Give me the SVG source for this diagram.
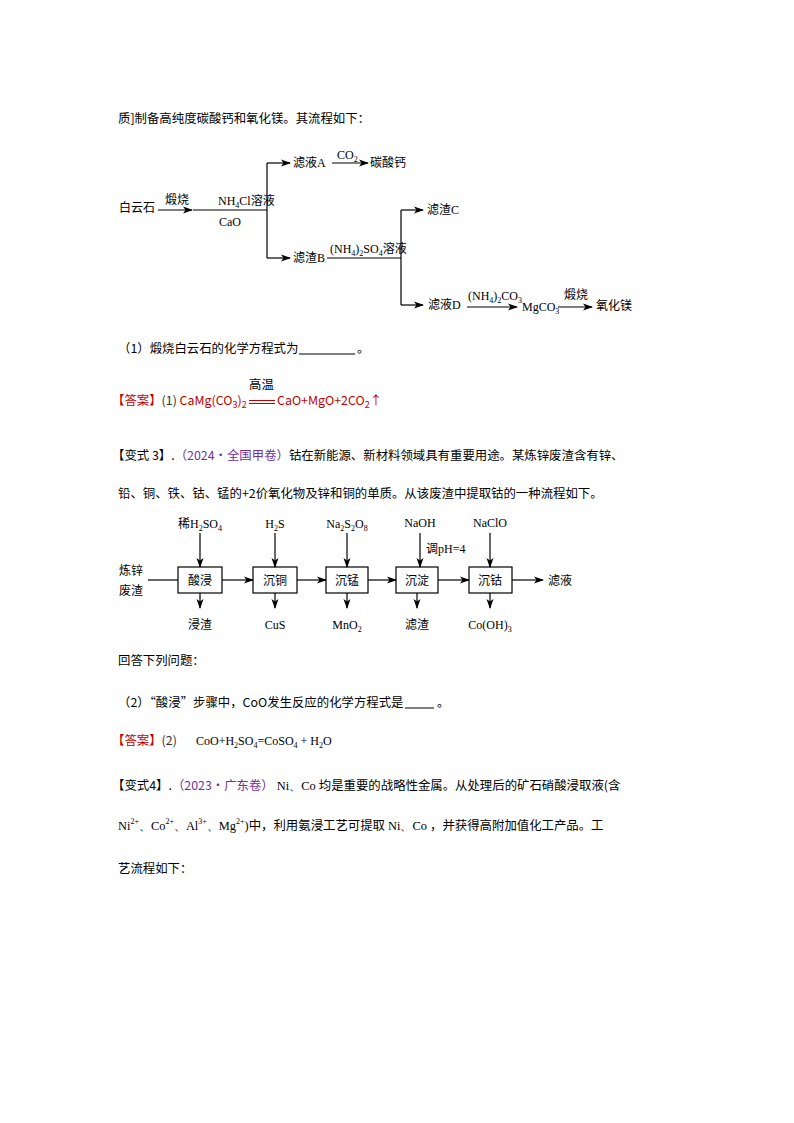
<svg xmlns="http://www.w3.org/2000/svg" width="794" height="1123" viewBox="0 0 794 1123">
<style>
.t{font-family:"Noto Sans CJK SC","Liberation Sans",sans-serif;font-size:12.4px;fill:#000}
.d{font-family:"Liberation Serif","Noto Sans CJK SC",serif;font-size:12px;fill:#000}
.l{stroke:#000;stroke-width:1.2;fill:none}
.b{stroke:#000;stroke-width:1.2;fill:#fff}
.r{fill:#c00000}
.p{fill:#7030a0}
</style>
<defs><marker id="a" markerWidth="10" markerHeight="8" refX="9" refY="4" orient="auto" markerUnits="userSpaceOnUse"><path d="M0,0.5L10,4L0,7.5L2.5,4Z" fill="#000"/></marker></defs>
<rect width="794" height="1123" fill="#fff"/>
<text class="t" x="118" y="123">质]制备高纯度碳酸钙和氧化镁。其流程如下：</text>
<g id="flow1">
<text class="d" x="119" y="212">白云石</text>
<text class="d" x="165" y="204">煅烧</text>
<text class="d" x="218" y="205">NH<tspan font-size="8" dy="3">4</tspan><tspan dy="-3">Cl溶液</tspan></text>
<text class="d" x="230" y="226" text-anchor="middle">CaO</text>
<text class="d" x="293" y="167">滤液A</text>
<text class="d" x="337" y="159">CO<tspan font-size="8" dy="3">2</tspan></text>
<text class="d" x="370" y="167">碳酸钙</text>
<text class="d" x="293" y="262">滤渣B</text>
<text class="d" x="330" y="253">(NH<tspan font-size="8" dy="3">4</tspan><tspan dy="-3">)</tspan><tspan font-size="8" dy="3">2</tspan><tspan dy="-3">SO</tspan><tspan font-size="8" dy="3">4</tspan><tspan dy="-3">溶液</tspan></text>
<text class="d" x="427" y="214">滤渣C</text>
<text class="d" x="428" y="309">滤液D</text>
<text class="d" x="468" y="300">(NH<tspan font-size="8" dy="3">4</tspan><tspan dy="-3">)</tspan><tspan font-size="8" dy="3">2</tspan><tspan dy="-3">CO</tspan><tspan font-size="8" dy="3">3</tspan></text>
<text class="d" x="522" y="311">MgCO<tspan font-size="8" dy="3">3</tspan></text>
<text class="d" x="564" y="299">煅烧</text>
<text class="d" x="596" y="310">氧化镁</text>
</g>
<g id="conn1">
<path class="l" d="M158,210H192" marker-end="url(#a)"/>
<path class="l" d="M193,210H267M267,163V258"/>
<path class="l" d="M267,163H290" marker-end="url(#a)"/>
<path class="l" d="M267,258H290" marker-end="url(#a)"/>
<path class="l" d="M332,163H368" marker-end="url(#a)"/>
<path class="l" d="M327,258H401M401,210V305"/>
<path class="l" d="M401,210H423" marker-end="url(#a)"/>
<path class="l" d="M401,305H423" marker-end="url(#a)"/>
<path class="l" d="M467,307H517" marker-end="url(#a)"/>
<path class="l" d="M558,307H592" marker-end="url(#a)"/>
</g>
<text class="t" x="118" y="353">（1）煅烧白云石的化学方程式为</text>
<path d="M299,354H355" stroke="#000" stroke-width="1"/>
<text class="t" x="357" y="353">。</text>
<text class="t" x="112" y="405"><tspan fill="#c00000">【答案】</tspan><tspan fill="#333">(1) </tspan><tspan class="r">CaMg(CO<tspan font-size="9" dy="3">3</tspan><tspan dy="-3">)</tspan><tspan font-size="9" dy="3">2</tspan></tspan></text>
<text class="t" x="249" y="389" font-size="13.5">高温</text>
<path d="M249,400.5H275M249,403.5H275" stroke="#c00000" stroke-width="1"/>
<text class="t r" x="277" y="405">CaO+MgO+2CO<tspan font-size="9" dy="3">2</tspan><tspan dy="-3">↑</tspan></text>
<text class="t" x="112" y="460">【变式 3】.<tspan class="p">（2024·全国甲卷）</tspan>钴在新能源、新材料领域具有重要用途。某炼锌废渣含有锌、</text>
<text class="t" x="118" y="498">铅、铜、铁、钴、锰的+2价氧化物及锌和铜的单质。从该废渣中提取钴的一种流程如下。</text>
<g id="flow2">
<g id="n1"><rect class="b" x="178" y="567" width="44" height="26"/><text class="d" x="200" y="585" text-anchor="middle">酸浸</text></g>
<g id="n2"><rect class="b" x="253" y="567" width="44" height="26"/><text class="d" x="275" y="585" text-anchor="middle">沉铜</text></g>
<g id="n3"><rect class="b" x="326" y="567" width="42" height="26"/><text class="d" x="347" y="585" text-anchor="middle">沉锰</text></g>
<g id="n4"><rect class="b" x="396" y="567" width="42" height="26"/><text class="d" x="417" y="585" text-anchor="middle">沉淀</text></g>
<g id="n5"><rect class="b" x="469" y="567" width="43" height="26"/><text class="d" x="490" y="585" text-anchor="middle">沉钴</text></g>
<text class="d" x="119" y="575" font-size="14">炼锌</text>
<text class="d" x="119" y="595" font-size="14">废渣</text>
<text class="d" x="200" y="528" text-anchor="middle">稀H<tspan font-size="8" dy="3">2</tspan><tspan dy="-3">SO</tspan><tspan font-size="8" dy="3">4</tspan></text>
<text class="d" x="275" y="528" text-anchor="middle">H<tspan font-size="8" dy="3">2</tspan><tspan dy="-3">S</tspan></text>
<text class="d" x="347" y="528" text-anchor="middle">Na<tspan font-size="8" dy="3">2</tspan><tspan dy="-3">S</tspan><tspan font-size="8" dy="3">2</tspan><tspan dy="-3">O</tspan><tspan font-size="8" dy="3">8</tspan></text>
<text class="d" x="420" y="527" text-anchor="middle">NaOH</text>
<text class="d" x="426" y="553">调pH=4</text>
<text class="d" x="490" y="527" text-anchor="middle">NaClO</text>
<text class="d" x="200" y="629" text-anchor="middle">浸渣</text>
<text class="d" x="275" y="629" text-anchor="middle">CuS</text>
<text class="d" x="347" y="629" text-anchor="middle">MnO<tspan font-size="8" dy="3">2</tspan></text>
<text class="d" x="417" y="629" text-anchor="middle">滤渣</text>
<text class="d" x="490" y="629" text-anchor="middle">Co(OH)<tspan font-size="8" dy="3">3</tspan></text>
<text class="d" x="548" y="585">滤液</text>
</g>
<g id="conn2">
<path class="l" d="M148,580H178"/>
<path class="l" d="M222,580H253" marker-end="url(#a)"/>
<path class="l" d="M297,580H326" marker-end="url(#a)"/>
<path class="l" d="M368,580H396" marker-end="url(#a)"/>
<path class="l" d="M438,580H469" marker-end="url(#a)"/>
<path class="l" d="M512,580H543" marker-end="url(#a)"/>
<path class="l" d="M200,533V567" marker-end="url(#a)"/>
<path class="l" d="M275,533V567" marker-end="url(#a)"/>
<path class="l" d="M347,533V567" marker-end="url(#a)"/>
<path class="l" d="M420,533V567" marker-end="url(#a)"/>
<path class="l" d="M490,533V567" marker-end="url(#a)"/>
<path class="l" d="M200,593V608" marker-end="url(#a)"/>
<path class="l" d="M275,593V608" marker-end="url(#a)"/>
<path class="l" d="M347,593V608" marker-end="url(#a)"/>
<path class="l" d="M417,593V608" marker-end="url(#a)"/>
<path class="l" d="M490,593V608" marker-end="url(#a)"/>
</g>
<text class="t" x="118" y="665">回答下列问题：</text>
<text class="t" x="118" y="707">（2）“酸浸”步骤中，CoO发生反应的化学方程式是</text>
<path d="M405,708H434" stroke="#000" stroke-width="1"/>
<text class="t" x="437" y="707">。</text>
<text class="t" x="112" y="745"><tspan fill="#c00000">【答案】</tspan><tspan fill="#333">(2)</tspan></text>
<text class="d" x="196" y="745" font-size="13">CoO+H<tspan font-size="8" dy="3">2</tspan><tspan dy="-3">SO</tspan><tspan font-size="8" dy="3">4</tspan><tspan dy="-3">=CoSO</tspan><tspan font-size="8" dy="3">4</tspan><tspan dy="-3"> + H</tspan><tspan font-size="8" dy="3">2</tspan><tspan dy="-3">O</tspan></text>
<text class="t" x="112" y="790">【变式4】.<tspan class="p">（2023·广东卷）</tspan><tspan font-family="Liberation Serif,serif"> Ni、Co </tspan>均是重要的战略性金属。从处理后的矿石硝酸浸取液(含</text>
<text class="t" x="118" y="830"><tspan font-family="Liberation Serif,serif">Ni<tspan font-size="8" dy="-6">2+</tspan><tspan dy="6">、Co</tspan><tspan font-size="8" dy="-6">2+</tspan><tspan dy="6">、Al</tspan><tspan font-size="8" dy="-6">3+</tspan><tspan dy="6">、Mg</tspan><tspan font-size="8" dy="-6">2+</tspan><tspan dy="6">)</tspan></tspan>中，利用氨浸工艺可提取<tspan font-family="Liberation Serif,serif"> Ni、Co </tspan>，并获得高附加值化工产品。工</text>
<text class="t" x="118" y="873">艺流程如下：</text>
</svg>
